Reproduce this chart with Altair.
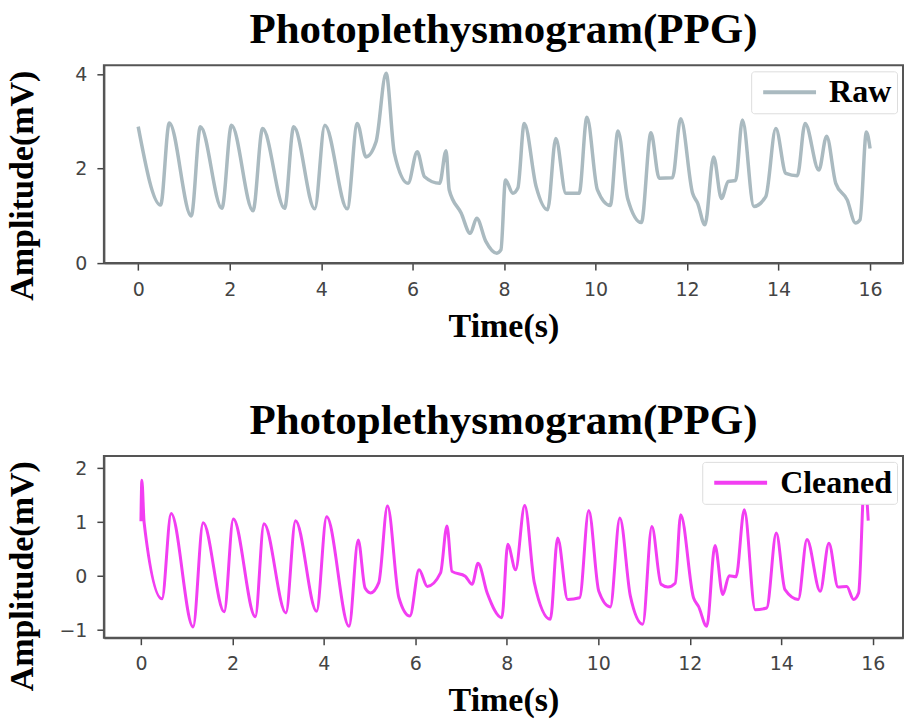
import altair as alt
import pandas as pd

# ---- data ----
raw_t = [0, 0.49, 0.68, 1.16, 1.36, 1.83, 2.04, 2.51, 2.72, 3.20, 3.40, 3.86, 4.08, 4.57,
         4.79, 4.98, 5.20, 5.42, 5.60, 5.90, 6.10, 6.26, 6.59, 6.73, 6.80, 7.06, 7.26, 7.40,
         7.60, 7.84, 7.93, 8.03, 8.19, 8.30, 8.44, 8.70, 8.95, 9.13, 9.35, 9.64, 9.81, 10.04,
         10.32, 10.49, 10.70, 11.00, 11.21, 11.39, 11.68, 11.86, 12.12, 12.23, 12.39, 12.58,
         12.75, 12.90, 13.06, 13.21, 13.46, 13.72, 13.94, 14.16, 14.41, 14.58, 14.88, 15.05,
         15.25, 15.50, 15.68, 15.78, 15.92, 16.00]
raw_v = [2.89, 1.23, 2.97, 1.00, 2.89, 1.16, 2.92, 1.11, 2.85, 1.16, 2.89, 1.15, 2.92, 1.15,
         2.96, 2.25, 2.57, 4.02, 2.33, 1.69, 2.36, 1.83, 1.69, 2.38, 1.55, 1.06, 0.63, 0.95,
         0.46, 0.21, 0.28, 1.76, 1.48, 1.59, 2.96, 1.62, 1.13, 2.64, 1.48, 1.48, 3.09, 1.55,
         1.22, 2.80, 1.37, 0.86, 2.76, 1.80, 1.81, 3.06, 1.48, 1.27, 0.81, 2.25, 1.37, 1.73,
         1.75, 3.03, 1.20, 1.41, 2.85, 1.90, 1.85, 2.96, 1.97, 2.69, 1.69, 1.34, 0.85, 0.92,
         2.78, 2.43]

cl_t = [0.00, 0.02, 0.07, 0.46, 0.66, 1.14, 1.36, 1.82, 2.02, 2.50, 2.69, 3.17, 3.38, 3.84,
        4.06, 4.55, 4.75, 4.90, 5.02, 5.20, 5.39, 5.64, 5.88, 6.08, 6.26, 6.55, 6.69, 6.80,
        7.09, 7.24, 7.37, 7.57, 7.89, 8.02, 8.19, 8.39, 8.60, 8.95, 9.11, 9.33, 9.59, 9.79,
        10.01, 10.26, 10.47, 10.70, 10.97, 11.17, 11.37, 11.52, 11.68, 11.80, 12.08, 12.19,
        12.37, 12.55, 12.72, 12.86, 13.01, 13.19, 13.43, 13.68, 13.89, 14.08, 14.37, 14.56,
        14.85, 15.04, 15.24, 15.43, 15.58, 15.69, 15.82, 15.90]
cl_v = [1.02, 1.78, 0.99, -0.42, 1.16, -0.94, 0.99, -0.66, 1.06, -0.75, 0.97, -0.68, 1.03,
        -0.65, 1.10, -0.93, 0.67, -0.22, -0.31, -0.12, 1.30, -0.40, -0.74, 0.12, -0.19, 0.06,
        0.93, 0.09, 0.00, -0.15, 0.24, -0.31, -0.77, 0.59, 0.12, 1.31, -0.12, -0.80, 0.71,
        -0.43, -0.40, 1.22, -0.28, -0.57, 1.08, -0.37, -0.89, 0.92, -0.15, -0.20, -0.13, 1.14,
        -0.40, -0.56, -0.93, 0.57, -0.34, 0.01, -0.01, 1.23, -0.62, -0.59, 0.80, -0.25, -0.43,
        0.68, -0.28, 0.61, -0.20, -0.19, -0.43, -0.31, 1.80, 1.03]

x_ticks = [0, 2, 4, 6, 8, 10, 12, 14, 16]
raw_y_ticks = [0, 2, 4]
cl_y_ticks = [-1, 0, 1, 2]

title_text = "Photoplethysmogram(PPG)"
x_title = "Time(s)"
y_title = "Amplitude(mV)"

raw_color = "#aabac0"
cl_color = "#f23ef2"

raw_df = pd.DataFrame({"t": raw_t, "v": raw_v, "series": "Raw"})
cl_df = pd.DataFrame({"t": cl_t, "v": cl_v, "series": "Cleaned"})


def legend():
    return alt.Legend(
        title=None, orient="top-right", offset=6,
        symbolType="M-0.69,0H3.38", symbolSize=676, symbolStrokeWidth=4,
        labelFont="Liberation Serif", labelFontWeight="bold", labelFontSize=32,
        labelColor="black", labelOffset=41, labelLimit=400,
        strokeColor="#dddddd", fillColor="white", padding=5, cornerRadius=3,
    )


def panel(df, color, name, xdom, ydom, yticks, w, h, sw):
    return alt.Chart(df, title=title_text).mark_line(
        strokeWidth=sw, interpolate="monotone", clip=True
    ).encode(
        x=alt.X("t:Q", title=x_title,
                scale=alt.Scale(domain=xdom, nice=False, zero=False),
                axis=alt.Axis(values=x_ticks)),
        y=alt.Y("v:Q", title=y_title,
                scale=alt.Scale(domain=ydom, nice=False, zero=False),
                axis=alt.Axis(values=yticks, titleY=120, titleX=-64)),
        color=alt.Color("series:N", scale=alt.Scale(domain=[name], range=[color]),
                        legend=legend()),
    ).properties(width=w, height=h)


top = panel(raw_df, raw_color, "Raw", [-0.75, 16.72], [0, 4.19], raw_y_ticks, 800, 198, 3.5)
bottom = panel(cl_df, cl_color, "Cleaned", [-0.81, 16.66], [-1.14, 2.23], cl_y_ticks, 800, 182, 3)

chart = alt.vconcat(top, bottom, spacing=55).resolve_scale(
    color="independent"
).resolve_legend(color="independent").properties(
    padding={"left": 4, "top": 7, "right": 0, "bottom": 0}
).configure_view(
    stroke="#555555", strokeWidth=2
).configure_axis(
    grid=False,
    labelFont="DejaVu Sans", labelFontSize=19, labelColor="#444444",
    labelPadding=10,
    tickColor="#444444", tickSize=7, tickWidth=1.5,
    domainColor="#555555", domainWidth=2,
    titleFont="Liberation Serif", titleFontWeight="bold", titleFontSize=34,
    titleColor="black", titlePadding=10,
).configure_title(
    font="Liberation Serif", fontWeight="bold", fontSize=43, color="black",
    anchor="middle", offset=13,
)

chart.save("out.html", embed_options={"renderer": "svg", "actions": False})
